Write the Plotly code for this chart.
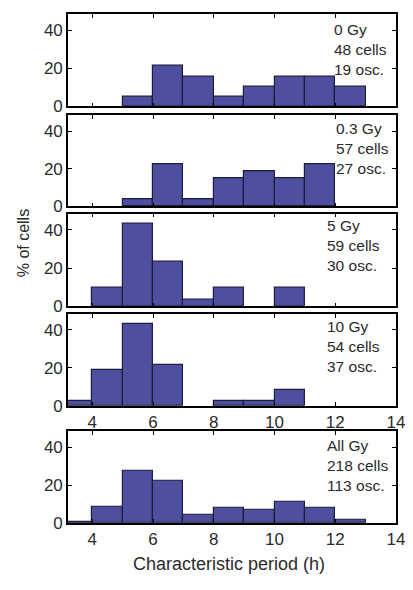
import plotly.graph_objects as go

# Bin centers (h), bins are 1 h wide
bin_centers = [3.5, 4.5, 5.5, 6.5, 7.5, 8.5, 9.5, 10.5, 11.5, 12.5]

# % of cells per bin, per dose (None = empty bin)
pct_0gy = [None, None, 5.3, 21.1, 15.8, 5.3, 10.5, 15.8, 15.8, 10.5]
pct_03gy = [None, None, 3.7, 22.2, 3.7, 14.8, 18.5, 14.8, 22.2, None]
pct_5gy = [None, 10.0, 43.3, 23.3, 3.3, 10.0, None, 10.0, None, None]
pct_10gy = [2.7, 18.9, 43.2, 21.6, None, 2.7, 2.7, 8.1, None, None]
pct_all = [0.9, 8.8, 27.4, 22.1, 4.4, 8.0, 7.1, 11.5, 8.0, 1.8]

panel_labels = [
    "0 Gy<br>48 cells<br>19 osc.",
    "0.3 Gy<br>57 cells<br>27 osc.",
    "5 Gy<br>59 cells<br>30 osc.",
    "10 Gy<br>54 cells<br>37 osc.",
    "All Gy<br>218 cells<br>113 osc.",
]
series = [pct_0gy, pct_03gy, pct_5gy, pct_10gy, pct_all]

x_ticks = [4, 6, 8, 10, 12, 14]
y_ticks = [0, 20, 40]

H = 590.0
# panel pixel extents (top, bottom)
panels_px = [(14, 108.3), (117.3, 210), (217.3, 311.7), (319.3, 412.7), (438.3, 532.3)]
label_x = [0.805, 0.81, 0.784, 0.784, 0.784]
label_shift = [-5, -3, -1, -2, -4]
show_xlabels = [False, False, False, True, True]

fig = go.Figure()
font_family = "Liberation Sans, Arial, sans-serif"
txt_color = "#2b2b2b"

for i, (vals, (top, bot)) in enumerate(zip(series, panels_px)):
    n = i + 1
    xa = "x" if n == 1 else f"x{n}"
    ya = "y" if n == 1 else f"y{n}"
    fig.add_trace(go.Bar(
        x=bin_centers, y=vals, width=1.0,
        marker=dict(color="#4f4f9f", line=dict(color="#1c1c3c", width=1.2)),
        xaxis=xa, yaxis=ya, showlegend=False, hoverinfo="skip",
    ))
    xkey = "xaxis" if n == 1 else f"xaxis{n}"
    ykey = "yaxis" if n == 1 else f"yaxis{n}"
    fig.layout[xkey] = dict(
        domain=[0, 1], anchor=ya, range=[3.2, 14],
        tickvals=x_ticks, showticklabels=show_xlabels[i],
        ticks="inside", ticklen=4, tickwidth=1.2, tickcolor="black",
        showline=True, linecolor="black", linewidth=1.6, mirror="ticks",
        showgrid=False, zeroline=False,
        tickfont=dict(size=17, color=txt_color, family=font_family),
    )
    fig.layout[ykey] = dict(
        domain=[1 - bot / H, 1 - top / H], anchor=xa, range=[0, 48.5],
        tickvals=y_ticks,
        ticks="inside", ticklen=4, tickwidth=1.2, tickcolor="black",
        showline=True, linecolor="black", linewidth=1.6, mirror="ticks",
        showgrid=False, zeroline=False,
        tickfont=dict(size=17, color=txt_color, family=font_family),
    )
    fig.add_annotation(
        text=panel_labels[i], xref=f"{xa} domain", yref=f"{ya} domain",
        x=label_x[i], y=1, xanchor="left", yanchor="top", align="left",
        yshift=label_shift[i], showarrow=False,
        font=dict(size=15.5, color=txt_color, family=font_family),
    )

fig.add_annotation(
    text="Characteristic period (h)", xref="paper", yref="paper",
    x=0.49, y=1 - 574 / H, xanchor="center", yanchor="middle",
    showarrow=False, font=dict(size=18, color=txt_color, family=font_family),
)
fig.add_annotation(
    text="% of cells", xref="paper", yref="paper",
    x=(23.5 - 68) / (413 - 68 - 17), y=1 - 248 / H, xanchor="center", yanchor="middle",
    textangle=-90, showarrow=False,
    font=dict(size=16, color=txt_color, family=font_family),
)

fig.update_layout(
    width=413, height=590,
    margin=dict(l=68, r=17, t=0, b=0),
    plot_bgcolor="white", paper_bgcolor="white",
    bargap=0, hovermode=False,
)

fig.write_html("out.html", config={"displayModeBar": False},
               post_script="document.body.style.margin='0';")
